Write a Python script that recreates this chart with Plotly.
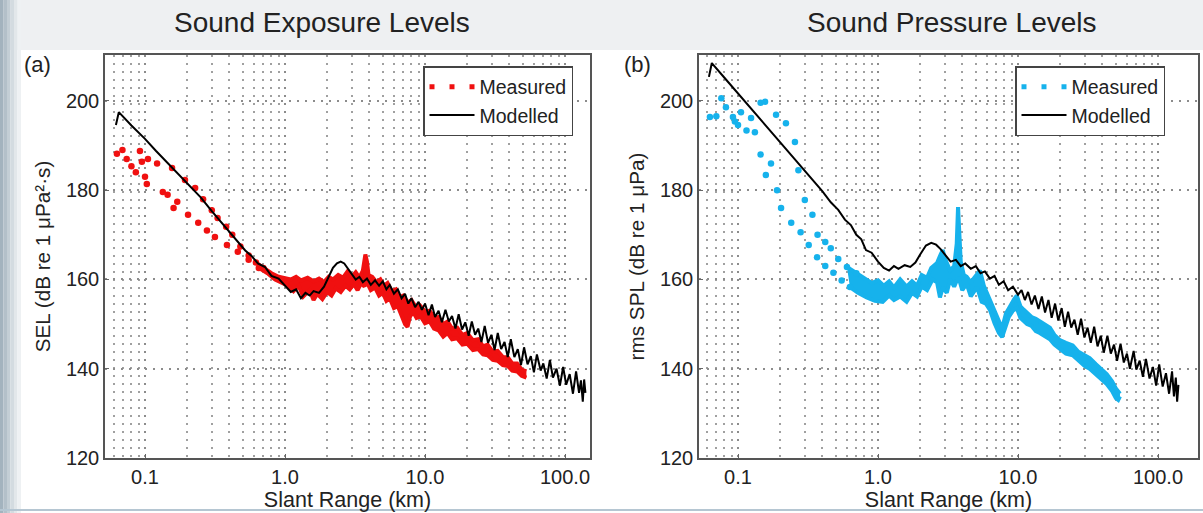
import plotly.graph_objects as go

# ---------------- data: panel (a) Sound Exposure Levels ----------------
model_a_x = [0.062, 0.065, 0.08, 0.1, 0.12, 0.15, 0.2, 0.25, 0.3, 0.35, 0.4, 0.46, 0.52, 0.58, 0.64, 0.72,
             0.8, 0.9, 1.0, 1.1, 1.2, 1.3, 1.4, 1.5, 1.6, 1.75, 1.9, 2.05, 2.2, 2.35, 2.5, 2.65, 2.8, 3.0,
             3.2, 3.4, 3.6, 3.85, 4.1, 4.4, 4.7, 5.0, 5.3, 5.6, 6.0, 6.4, 6.8, 7.2, 7.6, 8.0, 8.5, 9.0, 9.5,
             10.0, 10.6, 11.2, 11.8, 12.5, 13.2, 14.0, 14.8, 15.6, 16.5, 17.4, 18.4, 19.4, 20.5, 21.6, 22.8,
             24.0, 25.3, 26.7, 28.2, 29.8, 31.4, 33.1, 35.0, 37.0, 39.0, 41.0, 43.5, 46.0, 48.5, 51.0, 54.0,
             57.0, 60.0, 63.0, 67.0, 70.0, 74.0, 78.0, 82.0, 87.0, 92.0, 97.0, 102.0, 108.0, 114.0, 120.0,
             126.0, 130.0, 134.0, 137.0, 140.0]
model_a_y = [194.6, 197.5, 194.5, 191.5, 188.8, 185.6, 181.6, 178.4, 175.3, 172.8, 170.6, 168.4, 166.5, 165.2,
             163.6, 162.8, 160.8, 160.2, 158.6, 157.2, 157.8, 155.8, 157.0, 156.4, 157.4, 157.0, 158.4, 160.5,
             162.6, 163.6, 164.0, 163.6, 162.5, 161.2, 160.0, 160.6, 159.4, 160.2, 158.8, 159.8, 158.6, 159.6,
             157.8, 158.8, 156.8, 157.8, 155.8, 156.8, 154.6, 155.8, 153.8, 155.0, 153.2, 154.6, 152.0, 154.4,
             151.6, 153.0, 150.4, 153.2, 150.6, 151.8, 149.0, 152.2, 148.8, 150.4, 147.4, 150.6, 147.6, 149.0,
             146.0, 149.6, 145.8, 147.6, 144.2, 148.0, 144.4, 146.0, 142.6, 146.6, 142.6, 144.4, 140.8, 144.8,
             141.0, 142.8, 139.2, 143.2, 139.6, 141.2, 137.8, 142.0, 138.0, 140.0, 136.2, 140.4, 136.4, 138.8,
             134.4, 139.4, 134.6, 137.4, 132.6, 137.6, 134.6]

meas_a1_x = [0.063, 0.069, 0.092, 0.105, 0.122, 0.156, 0.193, 0.228, 0.26, 0.3, 0.33, 0.38, 0.42, 0.48, 0.55,
             0.62, 0.7, 0.8, 0.9, 1.0, 1.1, 1.2, 1.3, 1.45, 1.6, 1.75, 1.9, 2.05, 2.2, 2.4, 2.6, 2.8, 3.0, 3.2,
             3.4, 3.6, 3.75, 3.85, 3.95, 4.2, 4.5, 4.8, 5.1, 5.4, 5.8, 6.2, 6.6, 7.0, 7.5, 8.0, 8.6, 9.2, 10.0,
             10.8, 11.6, 12.5, 13.5, 14.5, 15.6, 17.0, 18.5, 20.0, 22.0, 24.0, 26.0, 28.0, 30.5, 33.0, 36.0,
             39.0, 42.0, 45.5, 49.0, 53.0]
meas_a1_y = [188.2, 189.0, 188.8, 187.0, 186.0, 185.0, 182.3, 180.5, 178.0, 175.5, 173.8, 171.8, 170.0, 167.4,
             165.4, 163.8, 162.6, 161.4, 160.6, 160.4, 160.0, 160.6, 159.8, 160.4, 159.6, 160.2, 159.4, 160.6,
             160.0, 161.0, 160.4, 161.8, 160.6, 161.6, 160.4, 162.0, 165.6, 164.0, 161.0, 160.6, 159.4, 160.0,
             158.6, 159.2, 157.4, 157.8, 156.0, 156.4, 154.8, 155.4, 153.8, 154.2, 152.8, 153.0, 151.4, 151.6,
             150.0, 150.6, 149.0, 149.2, 147.6, 148.0, 146.4, 146.6, 145.0, 145.4, 143.8, 144.0, 142.6, 142.6,
             141.2, 141.2, 139.8, 139.4]

meas_a2_x = [0.074, 0.08, 0.086, 0.095, 0.1, 0.103, 0.134, 0.145, 0.16, 0.17, 0.203, 0.24, 0.277, 0.316, 0.385,
             0.46, 0.55, 0.65, 0.75, 0.85, 0.95, 1.05, 1.15, 1.25, 1.35, 1.5, 1.6, 1.7, 1.85, 2.0, 2.15, 2.3,
             2.5, 2.7, 2.9, 3.1, 3.3, 3.5, 3.7, 3.8, 3.9, 4.1, 4.4, 4.7, 5.0, 5.3, 5.6, 6.0, 6.4, 6.8, 7.2, 7.5,
             7.8, 8.2, 8.7, 9.3, 10.0, 10.8, 11.6, 12.5, 13.5, 14.5, 15.6, 17.0, 18.5, 20.0, 22.0, 24.0, 26.0,
             28.0, 30.5, 33.0, 36.0, 39.0, 42.0, 45.5, 49.0, 53.0]
meas_a2_y = [187.0, 185.4, 184.0, 186.4, 183.0, 181.4, 179.6, 179.0, 176.0, 177.4, 174.5, 172.7, 171.0, 169.5,
             167.7, 166.2, 164.4, 162.6, 161.4, 160.0, 159.2, 158.6, 157.4, 158.6, 156.2, 157.6, 155.4, 156.8,
             155.6, 157.2, 156.4, 158.0, 157.2, 158.6, 157.8, 159.0, 157.6, 159.2, 158.4, 163.0, 159.0, 157.6,
             158.2, 156.4, 157.0, 155.2, 155.8, 153.6, 154.0, 151.8, 150.0, 149.4, 151.6, 152.8, 151.4, 151.8,
             150.2, 150.6, 149.0, 148.6, 147.2, 148.0, 146.6, 146.8, 145.4, 145.6, 144.2, 144.4, 143.2, 143.0,
             142.0, 141.8, 140.8, 140.6, 139.6, 139.4, 138.4, 138.0]

# ---------------- data: panel (b) Sound Pressure Levels ----------------
model_b_x = [0.062, 0.065, 0.08, 0.1, 0.12, 0.15, 0.2, 0.25, 0.3, 0.35, 0.4, 0.46, 0.52, 0.58, 0.64, 0.7, 0.76,
             0.82, 0.9, 1.0, 1.1, 1.2, 1.3, 1.4, 1.55, 1.7, 1.85, 2.0, 2.2, 2.4, 2.6, 2.8, 3.0, 3.3, 3.6, 3.9,
             4.2, 4.6, 5.0, 5.4, 5.8, 6.3, 6.8, 7.3, 7.9, 8.5, 9.2, 10.0, 10.6, 11.2, 11.8, 12.5, 13.2, 14.0,
             14.8, 15.6, 16.5, 17.4, 18.4, 19.4, 20.5, 21.6, 22.8, 24.0, 25.3, 26.7, 28.2, 29.8, 31.4, 33.1,
             35.0, 37.0, 39.0, 41.0, 43.5, 46.0, 48.5, 51.0, 54.0, 57.0, 60.0, 63.0, 67.0, 70.0, 74.0, 78.0,
             82.0, 87.0, 92.0, 97.0, 102.0, 108.0, 114.0, 120.0, 126.0, 130.0, 134.0, 137.0, 140.0]
model_b_y = [205.4, 208.5, 205.2, 201.7, 198.8, 195.3, 190.7, 187.2, 184.3, 181.9, 179.8, 177.3, 175.6, 173.4,
             172.2, 170.0, 169.0, 166.6, 166.0, 164.0, 162.6, 162.0, 163.0, 162.4, 163.2, 162.8, 163.8, 165.6,
             167.6, 168.2, 167.8, 166.8, 165.6, 164.0, 164.4, 163.0, 163.6, 162.4, 163.0, 161.4, 161.8, 160.2,
             160.8, 158.8, 159.6, 157.6, 158.4, 156.6, 157.6, 155.4, 157.2, 154.4, 156.4, 153.4, 156.2, 152.6,
             155.4, 151.4, 154.6, 150.8, 153.6, 149.4, 152.8, 149.2, 151.0, 147.6, 151.2, 147.0, 149.2, 145.8,
             149.4, 145.0, 147.4, 143.6, 147.4, 143.4, 145.4, 141.8, 145.6, 141.4, 143.4, 140.0, 144.0, 139.8,
             141.8, 138.2, 142.2, 137.8, 140.4, 136.2, 141.0, 136.0, 139.0, 134.4, 139.4, 133.8, 138.0, 132.6,
             136.4]

meas_b1_x = [0.063, 0.070, 0.076, 0.082, 0.092, 0.105, 0.124, 0.145, 0.156, 0.187, 0.22, 0.255, 0.27, 0.3,
             0.34, 0.37, 0.42, 0.46, 0.52, 0.6, 0.7, 0.8, 0.9, 1.0, 1.1, 1.2, 1.3, 1.44, 1.6, 1.75, 1.9, 2.05,
             2.24, 2.4, 2.64, 2.8, 2.9, 3.0, 3.27, 3.5, 3.65, 3.73, 3.8, 3.9, 4.1, 4.3, 4.6, 5.0, 5.35, 5.7,
             6.0, 6.3, 6.7, 7.2, 7.7, 8.2, 8.8, 9.4, 9.8, 10.4, 11.0, 11.6, 12.5, 13.4, 14.3, 15.5, 16.9, 18.2,
             19.9, 22.0, 24.6, 27.0, 30.0, 32.5, 36.0, 40.0, 43.0, 47.0, 50.0, 53.5]
meas_b1_y = [196.4, 196.6, 200.6, 198.6, 196.4, 197.5, 196.2, 199.6, 199.8, 196.9, 195.0, 190.8, 184.5, 177.8,
             174.5, 170.0, 168.4, 167.0, 164.6, 162.8, 161.4, 160.2, 159.2, 159.8, 158.6, 159.6, 158.2, 160.0,
             158.4, 159.6, 158.6, 161.0, 160.4, 162.6, 163.7, 165.6, 166.6, 164.8, 162.0, 163.0, 168.0, 176.2,
             170.0, 164.0, 161.0, 160.6, 159.4, 160.8, 162.0, 158.6, 157.0, 155.4, 153.6, 151.0, 149.0, 152.4,
             154.2, 155.6, 156.4, 154.0, 153.2, 152.6, 151.6, 151.2, 150.6, 149.8, 149.2, 147.6, 146.4, 145.8,
             145.2, 143.8, 143.0, 142.4, 141.0, 139.6, 138.8, 137.2, 135.6, 134.4]

meas_b2_x = [0.095, 0.1, 0.115, 0.132, 0.145, 0.158, 0.172, 0.19, 0.203, 0.24, 0.28, 0.32, 0.367, 0.42, 0.48,
             0.55, 0.63, 0.72, 0.83, 0.95, 1.08, 1.2, 1.3, 1.44, 1.6, 1.75, 1.9, 2.05, 2.24, 2.45, 2.64, 2.77,
             2.9, 3.1, 3.27, 3.5, 3.75, 4.0, 4.3, 4.6, 5.1, 5.5, 5.9, 6.3, 6.8, 7.3, 7.7, 8.1, 8.6, 9.2, 9.8,
             10.4, 11.6, 12.5, 13.4, 14.3, 15.5, 16.9, 18.2, 19.9, 22.0, 24.6, 27.0, 30.0, 32.5, 36.0, 40.0,
             43.0, 47.0, 50.0, 52.0, 53.5]
meas_b2_y = [195.4, 194.6, 193.4, 193.0, 188.0, 183.4, 186.0, 180.0, 176.0, 172.7, 170.6, 167.7, 165.0, 163.0,
             161.5, 159.8, 158.3, 157.0, 156.0, 155.2, 155.0, 156.4, 155.4, 156.2, 155.0, 157.0, 156.2, 158.4,
             157.6, 160.0, 159.4, 156.0, 158.2, 157.0, 160.0, 158.4, 160.6, 157.6, 159.0, 156.2, 158.3, 155.0,
             154.6, 153.2, 150.2, 148.0, 147.1, 149.4, 151.6, 153.0, 153.6, 151.4, 150.0, 149.6, 148.4, 148.0,
             147.2, 146.6, 145.4, 144.4, 143.4, 143.0, 141.8, 140.6, 140.0, 138.8, 137.4, 136.6, 135.0, 133.4,
             133.0, 133.8]

x_tick_vals = [0.1, 1.0, 10.0, 100.0]
x_tick_text = ["0.1", "1.0", "10.0", "100.0"]
y_tick_vals = [120, 140, 160, 180, 200]
panel_titles = ["Sound Exposure Levels", "Sound Pressure Levels"]
panel_labels = ["(a)", "(b)"]
y_titles = ["SEL (dB re 1 \u03bcPa\u00b2\u00b7s)", "rms SPL (dB re 1 \u03bcPa)"]
x_title = "Slant Range (km)"

RED = "#f01010"
CYAN = "#16b2ec"
FONT = "Liberation Sans, Arial, sans-serif"
W, H = 1203, 513
SPLIT = 0.7   # sparse (dotted) part of the measured curves drawn as dots, dense part as a band

fig = go.Figure()


def near(xs, ys):
    pts = [(a, b) for a, b in zip(xs, ys) if a <= SPLIT]
    return [p[0] for p in pts], [p[1] for p in pts]


def far(xs, ys):
    pts = [(a, b) for a, b in zip(xs, ys) if a >= SPLIT * 0.85]
    return [p[0] for p in pts], [p[1] for p in pts]


def add_panel(xa, ya, leg, color, m1x, m1y, m2x, m2y, mdx, mdy):
    # legend entry for the measured series (dotted sample)
    fig.add_trace(go.Scatter(x=[None], y=[None], mode="lines", name="Measured",
                             line=dict(color=color, width=5, dash="5px,15px"),
                             xaxis=xa, yaxis=ya, legend=leg))
    # dense part: two noisy edges, filled between
    fx, fy = far(m1x, m1y)
    fig.add_trace(go.Scatter(x=fx, y=fy, mode="lines", showlegend=False, hoverinfo="skip",
                             line=dict(color=color, width=4), xaxis=xa, yaxis=ya, legend=leg))
    fx, fy = far(m2x, m2y)
    fig.add_trace(go.Scatter(x=fx, y=fy, mode="lines", showlegend=False, fill="tonexty",
                             fillcolor=color, line=dict(color=color, width=4),
                             xaxis=xa, yaxis=ya, legend=leg))
    # sparse part as dots
    for mx, my in ((m1x, m1y), (m2x, m2y)):
        nx, ny = near(mx, my)
        fig.add_trace(go.Scatter(x=nx, y=ny, mode="markers", showlegend=False,
                                 marker=dict(color=color, size=6.5, line=dict(width=0)),
                                 xaxis=xa, yaxis=ya, legend=leg))
    fig.add_trace(go.Scatter(x=mdx, y=mdy, mode="lines", name="Modelled",
                             line=dict(color="black", width=2), xaxis=xa, yaxis=ya, legend=leg))


add_panel("x", "y", "legend", RED, meas_a1_x, meas_a1_y, meas_a2_x, meas_a2_y, model_a_x, model_a_y)
add_panel("x2", "y2", "legend2", CYAN, meas_b1_x, meas_b1_y, meas_b2_x, meas_b2_y, model_b_x, model_b_y)

minor_vals = [k * 10.0 ** e for e in range(-2, 3) for k in range(2, 10)]
GRID_DASH = "2px,6px"


def xax(domain, rng, anchor):
    return dict(type="log", domain=domain, range=rng, anchor=anchor, tickvals=x_tick_vals, ticktext=x_tick_text,
                showgrid=True, gridcolor="#8c8c8c", griddash=GRID_DASH, gridwidth=1.5,
                minor=dict(tickvals=minor_vals, showgrid=True, gridcolor="#a0a0a0", griddash=GRID_DASH,
                           gridwidth=1.5, ticks=""),
                showline=True, linecolor="#555", linewidth=1.5, mirror=True,
                ticks="inside", ticklen=4, tickcolor="#666",
                tickfont=dict(size=20, color="#222", family=FONT), zeroline=False,
                title=dict(text=x_title, font=dict(size=21.5, color="#222", family=FONT), standoff=2))


def yax(domain, title, anchor):
    return dict(domain=domain, range=[120, 210.3], tickvals=y_tick_vals, anchor=anchor,
                showgrid=True, gridcolor="#8c8c8c", griddash=GRID_DASH, gridwidth=1.5,
                showline=True, linecolor="#555", linewidth=1.5, mirror=True,
                ticks="inside", ticklen=4, tickcolor="#666",
                tickfont=dict(size=20, color="#222", family=FONT), zeroline=False,
                title=dict(text=title, font=dict(size=20.7, color="#222", family=FONT), standoff=10))


def leg(x):
    return dict(x=x, y=1 - 66 / H, xanchor="left", yanchor="top", bgcolor="white",
                bordercolor="#444", borderwidth=1.5, font=dict(size=19.5, color="#222", family=FONT),
                itemwidth=45, tracegroupgap=0, traceorder="normal")


yd = [1 - 458 / H, 1 - 55 / H]
fig.update_layout(
    width=W, height=H, margin=dict(l=0, r=0, t=0, b=0, autoexpand=False),
    paper_bgcolor="white", plot_bgcolor="white",
    xaxis=xax([105 / W, 590 / W], [-1.2857, 2.1786], "y"),
    yaxis=yax(yd, y_titles[0], "x"),
    xaxis2=xax([699 / W, 1198 / W], [-1.2786, 2.2857], "y2"),
    yaxis2=yax(yd, y_titles[1], "x2"),
    legend=leg(423 / W), legend2=leg(1015 / W),
    showlegend=True,
)

# page decoration: light grey title strip and left edge gradient
shapes = [dict(type="rect", xref="paper", yref="paper", x0=0, x1=1, y0=1 - 50 / H, y1=1,
               fillcolor="#eef0f2", line=dict(width=0), layer="below")]
grad = ["#a3b3be", "#b3c0c9", "#c3ced5", "#d3dbe0", "#e2e7ea", "#eef1f3"]
for i, c in enumerate(grad):
    shapes.append(dict(type="rect", xref="paper", yref="paper", x0=i * 3.5 / W, x1=(i + 1) * 3.5 / W,
                       y0=0, y1=1, fillcolor=c, line=dict(width=0), layer="below"))
shapes.append(dict(type="line", xref="paper", yref="paper", x0=0, x1=1, y0=3 / H, y1=3 / H,
                   line=dict(color="#b5c6d2", width=2)))
fig.update_layout(shapes=shapes)

annotations = []
for t, cx in zip(panel_titles, [322, 952]):
    annotations.append(dict(text=t, x=cx / W, y=1 - 23 / H, xref="paper", yref="paper", showarrow=False,
                            xanchor="center", yanchor="middle", font=dict(size=28, color="#222", family=FONT)))
for t, cx in zip(panel_labels, [37, 637]):
    annotations.append(dict(text=t, x=cx / W, y=1 - 64 / H, xref="paper", yref="paper", showarrow=False,
                            xanchor="center", yanchor="middle", font=dict(size=22, color="#222", family=FONT)))
fig.update_layout(annotations=annotations)

fig.write_html("out.html", config={"displayModeBar": False},
               post_script="document.body.style.margin='0px';document.body.style.overflow='hidden';")
